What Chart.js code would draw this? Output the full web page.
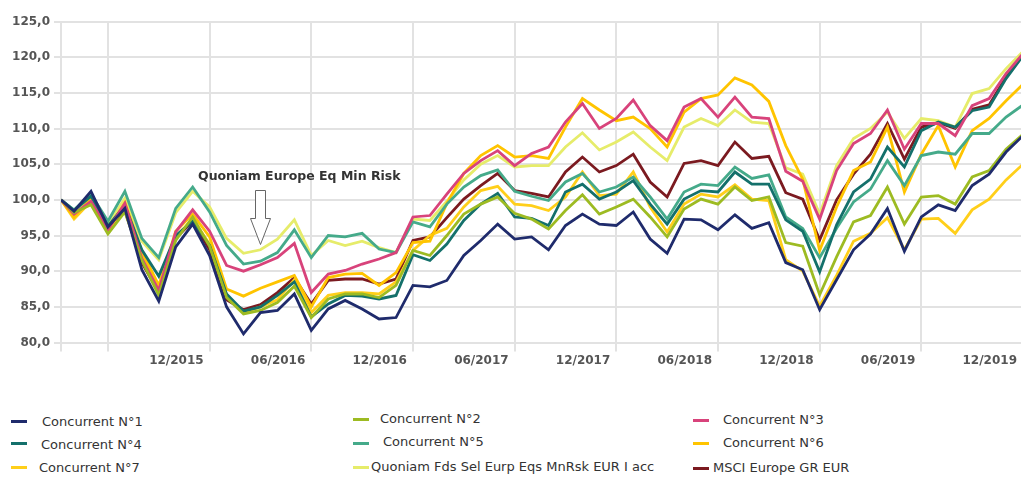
<!DOCTYPE html>
<html>
<head>
<meta charset="utf-8">
<script src="https://cdn.jsdelivr.net/npm/chart.js@4/dist/chart.umd.min.js"></script>
<style>
  html, body { margin: 0; padding: 0; background: #fff; }
  body { width: 1021px; height: 477px; overflow: hidden; position: relative; font-family: "DejaVu Sans", Verdana, sans-serif; }
  #c { position: absolute; left: 0; top: 0; }
  .lg { position: absolute; font-size: 13px; color: #333; line-height: 16px; white-space: nowrap; }
  .mk { position: absolute; height: 3px; width: 16px; }
</style>
</head>
<body>
<canvas id="c" width="1025" height="400" style="width:1025px;height:400px"></canvas>
<div id="legend"></div>
<script>
// ---- DATA ----
// x positions in months relative to end of June 2015
const xMonths = [-2.77, -2, -1, 0, 1, 2, 3, 4, 5, 6, 7, 8, 9, 10, 11, 12, 13, 14, 15, 16, 17, 18, 19, 20,
  21, 22, 23, 24, 25, 26, 27, 28, 29, 30, 31, 32, 33, 34, 35, 36, 37, 38, 39, 40, 41, 42, 43, 44, 45, 46,
  47, 48, 49, 50, 51, 52, 53, 54];

const tickMonths = [-2.77, 0, 6, 12, 18, 24, 30, 36, 42, 48, 54];
const tickLabels = ['', '', '12/2015', '06/2016', '12/2016', '06/2017', '12/2017', '06/2018', '12/2018', '06/2019', '12/2019'];

const seriesNames = ['Concurrent N°1', 'Concurrent N°2', 'Concurrent N°3', 'Concurrent N°4', 'Concurrent N°5',
  'Concurrent N°6', 'Concurrent N°7', 'Quoniam Fds Sel Eurp Eqs MnRsk EUR I acc', 'MSCI Europe GR EUR'];

const concurrent1 = [100, 98.4, 101.2, 96.2, 98.8, 90.2, 85.8, 93.4, 96.6, 92.2, 85.0, 81.2, 84.2, 84.5, 86.8, 81.7,
  84.7, 85.9, 84.7, 83.3, 83.5, 88.0, 87.8, 88.7, 92.2, 94.3, 96.6, 94.5, 94.8, 93.0, 96.4, 98.0, 96.6, 96.4, 98.3,
  94.5, 92.5, 97.3, 97.2, 95.8, 97.9, 96.0, 96.8, 91.2, 90.2, 84.6, 88.8, 93.0, 95.2, 98.8, 92.8, 97.6, 99.3, 98.5,
  102.0, 103.6, 106.7, 109.0];
const concurrent2 = [100, 98.2, 99.3, 95.2, 98.3, 91.5, 86.6, 94.3, 97.6, 93.5, 86.3, 84.0, 84.5, 85.6, 87.9, 83.5,
  86.1, 86.8, 86.8, 86.3, 88.0, 92.9, 92.2, 95.0, 98.0, 99.4, 100.4, 98.1, 97.3, 95.9, 98.5, 100.7, 98.0, 99.0, 100.1,
  97.6, 94.8, 98.7, 100.1, 99.4, 101.8, 99.9, 100.4, 94.0, 93.5, 86.7, 92.0, 96.9, 97.8, 101.8, 96.6, 100.4, 100.6, 99.4,
  103.2, 104.1, 107.1, 109.2];
const concurrent3 = [100, 98.0, 99.8, 95.8, 99.5, 91.8, 87.3, 95.5, 98.6, 95.6, 90.8, 90.0, 90.9, 91.9, 93.9, 87.0,
  89.6, 90.1, 91.0, 91.7, 92.6, 97.6, 97.8, 100.8, 103.7, 105.5, 106.9, 104.8, 106.5, 107.4, 110.9, 113.5, 110.0, 111.4, 114.0,
  110.4, 108.3, 113.0, 114.2, 111.6, 114.4, 111.6, 111.4, 104.0, 102.6, 97.3, 104.1, 107.9, 109.3, 112.6, 107.1, 110.7, 110.7, 109.0,
  113.2, 114.2, 117.7, 120.5];
const concurrent4 = [100, 98.5, 100.5, 96.3, 99.2, 93.0, 89.3, 95.0, 97.0, 93.6, 86.8, 84.4, 85.0, 86.6, 88.5, 83.6,
  85.4, 86.6, 86.5, 86.1, 86.6, 92.3, 91.5, 93.8, 97.1, 99.4, 100.9, 97.6, 97.4, 96.4, 101.1, 102.2, 100.1, 101.1, 102.7,
  99.4, 96.6, 100.1, 101.3, 101.1, 103.9, 102.2, 102.2, 97.2, 95.6, 89.9, 96.5, 101.1, 102.9, 107.4, 104.6, 109.7, 110.9, 110.2,
  112.5, 113.0, 117.0, 120.2];
const concurrent5 = [100, 98.6, 100.8, 97.0, 101.2, 94.6, 91.9, 98.8, 101.8, 98.3, 93.6, 91.0, 91.4, 92.6, 95.8, 91.9,
  95.0, 94.8, 95.3, 93.1, 92.6, 96.9, 96.2, 99.4, 101.8, 103.4, 104.2, 101.2, 100.5, 99.9, 102.5, 103.7, 101.1, 101.8, 103.2,
  100.4, 97.3, 101.1, 102.2, 102.0, 104.6, 103.0, 103.5, 97.6, 96.0, 91.9, 96.0, 99.7, 101.5, 105.5, 102.0, 106.2, 106.7, 106.4,
  109.3, 109.3, 111.6, 113.3];
const concurrent6 = [100, 97.6, 100.2, 95.8, 99.6, 92.8, 88.0, 95.6, 98.0, 94.8, 87.5, 86.5, 87.6, 88.5, 89.4, 85.0,
  89.1, 89.6, 89.7, 88.0, 89.8, 94.0, 94.2, 99.5, 103.7, 106.2, 107.6, 106.0, 106.2, 105.8, 110.2, 114.2, 112.6, 111.1, 111.6,
  110.0, 107.4, 112.3, 114.2, 114.7, 117.1, 116.1, 113.8, 107.6, 102.9, 92.9, 99.0, 104.1, 105.3, 110.2, 101.1, 106.4, 110.4, 104.6,
  109.7, 111.4, 113.9, 116.2];
const concurrent7 = [100, 97.3, 99.8, 95.5, 99.3, 92.2, 87.4, 94.8, 97.3, 93.8, 86.6, 84.2, 85.0, 86.0, 88.8, 84.2,
  86.6, 87.0, 87.0, 86.8, 88.5, 92.9, 95.0, 96.0, 99.0, 101.3, 101.9, 99.4, 99.2, 98.5, 100.4, 103.9, 100.6, 100.8, 103.9,
  99.0, 95.5, 99.4, 100.8, 100.4, 102.1, 100.1, 99.9, 91.6, 90.0, 85.1, 89.4, 94.2, 95.3, 97.5, 93.0, 97.3, 97.4, 95.3,
  98.6, 100.1, 102.8, 105.0];
const quoniamMinRisk = [100, 98.3, 100.3, 96.5, 100.2, 94.2, 91.6, 98.2, 101.2, 99.0, 94.6, 92.5, 93.0, 94.5, 97.2, 92.2,
  94.3, 93.6, 94.2, 93.3, 92.6, 97.3, 97.1, 99.8, 102.8, 105.0, 106.2, 104.6, 104.8, 104.8, 107.4, 109.4, 107.0, 108.1, 109.5,
  107.4, 105.5, 110.2, 111.4, 110.4, 112.6, 110.9, 110.7, 104.5, 103.6, 98.0, 104.8, 108.6, 110.0, 112.3, 108.6, 111.4, 111.1, 110.2,
  114.9, 115.6, 118.4, 120.8];
const msciEurope = [100, 98.1, 100.0, 95.8, 98.5, 91.2, 87.0, 94.6, 97.0, 93.0, 86.0, 84.6, 85.3, 87.0, 89.1, 85.4,
  88.7, 88.9, 88.9, 88.2, 88.9, 94.3, 94.8, 97.5, 100.1, 102.0, 103.7, 101.3, 100.9, 100.4, 103.9, 106.0, 103.9, 104.8, 106.4,
  102.5, 100.4, 105.1, 105.5, 104.8, 108.1, 105.8, 106.1, 101.0, 100.1, 94.4, 100.0, 103.6, 106.4, 110.7, 105.7, 110.2, 110.8, 110.0,
  112.7, 113.3, 117.2, 120.3];

const seriesValues = [concurrent1, concurrent2, concurrent3, concurrent4, concurrent5,
  concurrent6, concurrent7, quoniamMinRisk, msciEurope];
const seriesColors = ['#1f2b6c', '#9dbb22', '#d8437b', '#14706b', '#45aa8a', '#ffc400', '#ffcf1a', '#e6ec6a', '#7b1a20'];

const yMin = 80, yMax = 125, yStep = 5;

// ---- CHART ----
const annotationPlugin = {
  id: 'annot',
  afterDraw(chart) {
    const ctx = chart.ctx;
    ctx.save();
    ctx.font = 'bold 12.5px "DejaVu Sans"';
    ctx.fillStyle = '#333';
    ctx.textAlign = 'left';
    ctx.textBaseline = 'middle';
    ctx.fillText('Quoniam Europe Eq Min Risk', 198, 177);
    // hollow arrow
    ctx.beginPath();
    ctx.moveTo(255.5, 190.5);
    ctx.lineTo(265.5, 190.5);
    ctx.lineTo(265.5, 218.5);
    ctx.lineTo(270.5, 218.5);
    ctx.lineTo(260.5, 244.5);
    ctx.lineTo(250.5, 218.5);
    ctx.lineTo(255.5, 218.5);
    ctx.closePath();
    ctx.fillStyle = '#fff';
    ctx.fill();
    ctx.strokeStyle = '#666';
    ctx.lineWidth = 1;
    ctx.stroke();
    ctx.restore();
  }
};

const axisFont = { family: 'DejaVu Sans', size: 12, weight: 'bold' };

new Chart(document.getElementById('c'), {
  type: 'line',
  data: {
    datasets: seriesNames.map((name, i) => ({
      label: name,
      data: xMonths.map((x, j) => ({ x: x, y: seriesValues[i][j] })),
      borderColor: seriesColors[i],
      backgroundColor: seriesColors[i],
      borderWidth: 2.8,
      pointRadius: 0,
      tension: 0,
      fill: false
    }))
  },
  options: {
    responsive: false,
    animation: false,
    layout: { padding: { top: 21.5, left: 0, right: 0, bottom: 0 } },
    plugins: { legend: { display: false }, tooltip: { enabled: false } },
    scales: {
      x: {
        type: 'linear',
        min: xMonths[0],
        max: 54,
        afterBuildTicks: s => { s.ticks = tickMonths.map(v => ({ value: v })); },
        afterFit: s => { s.height = 57.5; },
        border: { display: false },
        grid: { color: '#e2e2e2', lineWidth: 2, tickLength: 9 },
        ticks: {
          autoSkip: false, maxRotation: 0, minRotation: 0,
          align: 'end', labelOffset: -6, padding: 2,
          font: axisFont, color: '#555',
          callback: (v, i) => tickLabels[i]
        }
      },
      y: {
        min: yMin, max: yMax,
        afterFit: s => { s.width = 61; },
        border: { display: false },
        grid: { color: '#e2e2e2', lineWidth: 2, tickLength: 7 },
        ticks: {
          stepSize: yStep, padding: 4,
          font: axisFont, color: '#555',
          callback: v => v.toFixed(1).replace('.', ',')
        }
      }
    }
  },
  plugins: [annotationPlugin]
});

// ---- LEGEND ----
const legendLayout = [
  { mx: 11, tx: 42, my: 421, ty: 422 },
  { mx: 353, tx: 380, my: 419, ty: 419 },
  { mx: 693, tx: 723, my: 420, ty: 420 },
  { mx: 11, tx: 41, my: 443, ty: 445 },
  { mx: 353, tx: 383, my: 443, ty: 442 },
  { mx: 693, tx: 723, my: 443, ty: 443 },
  { mx: 11, tx: 39, my: 467, ty: 468 },
  { mx: 353, tx: 371, my: 467, ty: 467 },
  { mx: 693, tx: 713, my: 468, ty: 468 }
];
const legendEl = document.getElementById('legend');
seriesNames.forEach((name, i) => {
  const p = legendLayout[i];
  const m = document.createElement('div');
  m.className = 'mk';
  m.style.left = p.mx + 'px';
  m.style.top = (p.my - 1.5) + 'px';
  m.style.background = seriesColors[i];
  legendEl.appendChild(m);
  const t = document.createElement('div');
  t.className = 'lg';
  t.style.left = p.tx + 'px';
  t.style.top = (p.ty - 8) + 'px';
  t.textContent = name;
  legendEl.appendChild(t);
});
</script>
</body>
</html>
